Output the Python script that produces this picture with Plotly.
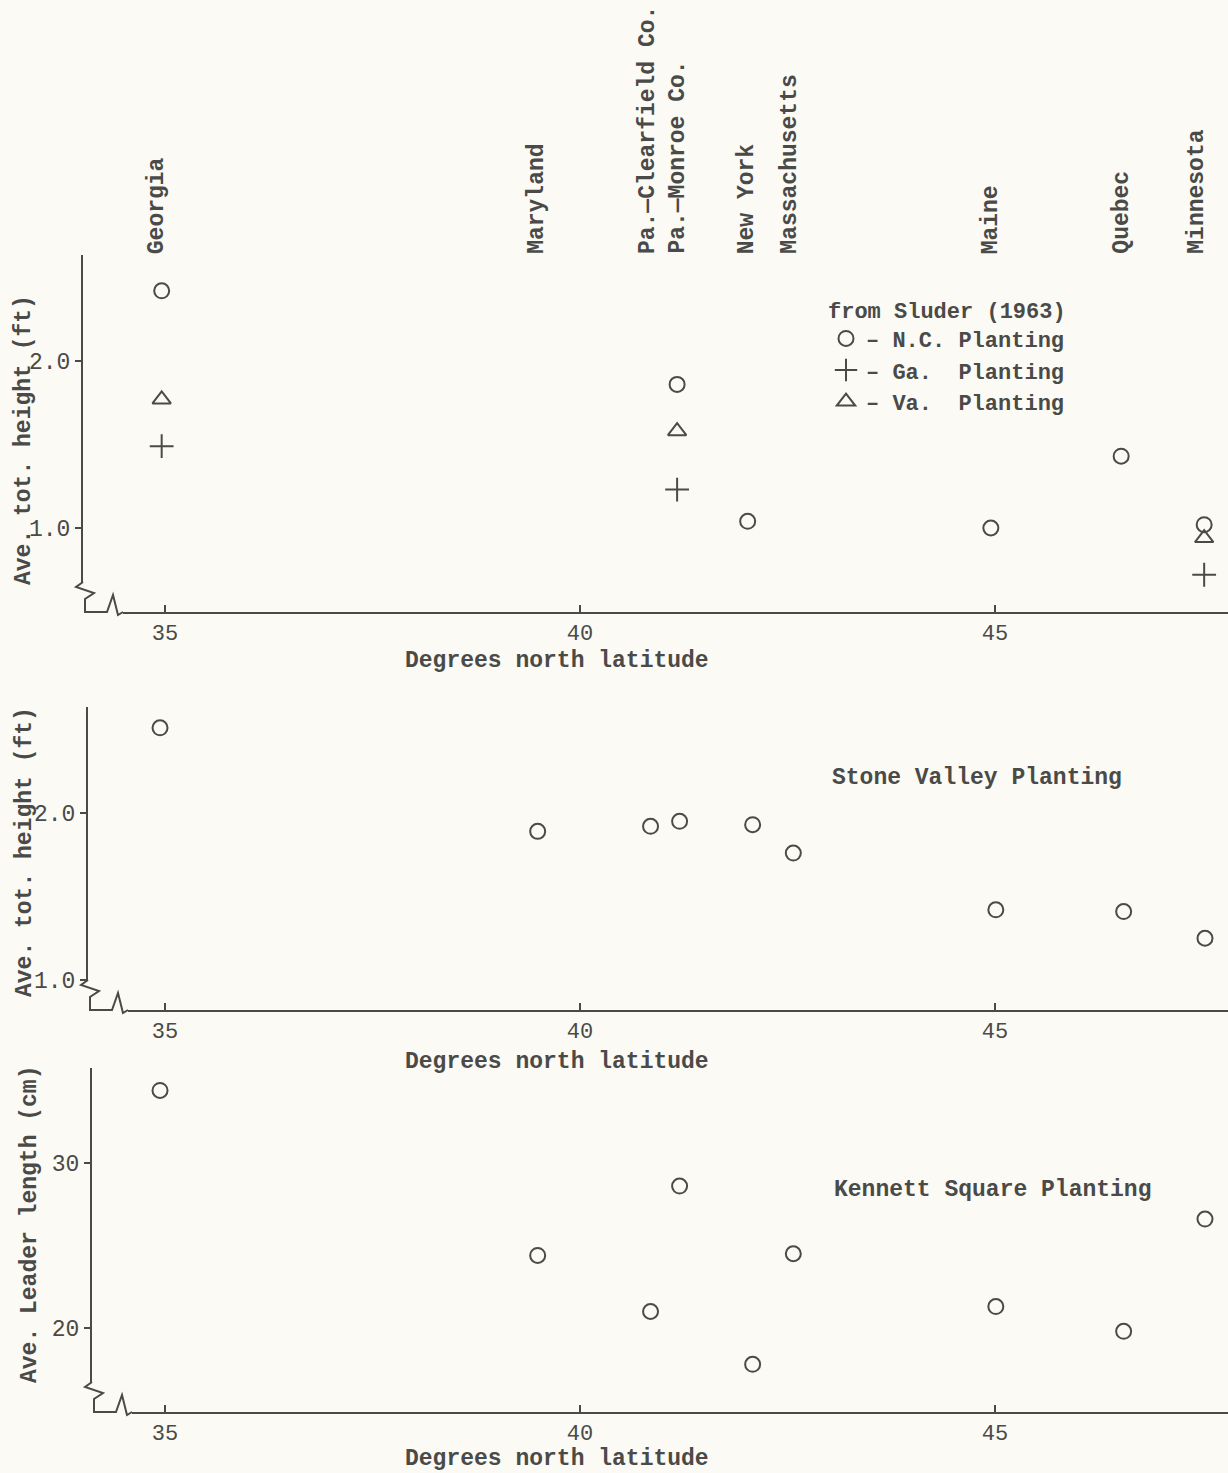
import plotly.graph_objects as go

W, H = 1228, 1473
BG = "#fbfaf4"
INK = "#4a4a48"
FONT = "Liberation Mono"
FS = 23

# ---------------- data ----------------
site_labels = ["Georgia", "Maryland", "Pa.\u2014Clearfield Co.", "Pa.\u2014Monroe Co.",
               "New York", "Massachusetts", "Maine", "Quebec", "Minnesota"]
site_label_lat = [34.90, 39.48, 40.82, 41.17, 42.01, 42.52, 44.95, 46.52, 47.43]

# Panel 1: from Sluder (1963)
nc_lat = [34.96, 41.17, 42.02, 44.95, 46.52, 47.52]
nc_height = [2.42, 1.86, 1.04, 1.00, 1.43, 1.02]
ga_lat = [34.96, 41.17, 47.52]
ga_height = [1.49, 1.23, 0.72]
va_lat = [34.96, 41.17, 47.52]
va_height = [1.77, 1.58, 0.94]

# Panels 2 and 3
sv_lat = [34.94, 39.49, 40.85, 41.20, 42.08, 42.57, 45.01, 46.55, 47.53]
sv_height = [2.51, 1.89, 1.92, 1.95, 1.93, 1.76, 1.42, 1.41, 1.25]
ks_leader = [34.4, 24.4, 21.0, 28.6, 17.8, 24.5, 21.3, 19.8, 26.6]

x_ticks = [35, 40, 45]
y_ticks_ft = [1.0, 2.0]
y_ticks_cm = [20, 30]

# ---------------- layout helpers ----------------
def px(x):
    return x / W

def py(y):
    return 1 - y / H

X35, PXDEG = 165, 83.0

def xrange_for(left_px):
    return [35 - (X35 - left_px) / PXDEG, 35 + (W - X35) / PXDEG]

panels = [
    dict(ax=83, top=255, bot=612, yr=[1.0 - (612 - 528) / 167, 2.0 + (361 - 255) / 167]),
    dict(ax=88, top=707, bot=1010, yr=[1.0 - (1010 - 980) / 167, 2.0 + (813 - 707) / 167]),
    dict(ax=92, top=1068, bot=1412, yr=[20 - (1412 - 1328) / 16.5, 30 + (1163 - 1068) / 16.5]),
]

fig = go.Figure()

mk_line = dict(color=INK, width=2)
fig.add_trace(go.Scatter(x=nc_lat, y=nc_height, mode="markers", name="\u2013 N.C. Planting",
                         marker=dict(symbol="circle-open", size=15, line=mk_line, color=INK),
                         xaxis="x", yaxis="y"))
fig.add_trace(go.Scatter(x=ga_lat, y=ga_height, mode="markers", name="\u2013 Ga.\u00a0 Planting",
                         marker=dict(symbol="cross-thin-open", size=17, line=mk_line, color=INK),
                         xaxis="x", yaxis="y"))
fig.add_trace(go.Scatter(x=va_lat, y=va_height, mode="markers", name="\u2013 Va.\u00a0 Planting",
                         marker=dict(symbol="triangle-up-open", size=16, line=mk_line, color=INK),
                         xaxis="x", yaxis="y"))
fig.add_trace(go.Scatter(x=sv_lat, y=sv_height, mode="markers", showlegend=False,
                         marker=dict(symbol="circle-open", size=15, line=mk_line, color=INK),
                         xaxis="x2", yaxis="y2"))
fig.add_trace(go.Scatter(x=sv_lat, y=ks_leader, mode="markers", showlegend=False,
                         marker=dict(symbol="circle-open", size=15, line=mk_line, color=INK),
                         xaxis="x3", yaxis="y3"))

axis_common = dict(showline=True, linecolor=INK, linewidth=2, showgrid=False, zeroline=False,
                   tickwidth=2, tickcolor=INK)

BOLD = dict(family=FONT, size=FS, color=INK, weight="bold")

layout = dict(
    width=W, height=H, margin=dict(l=0, r=0, t=0, b=0),
    paper_bgcolor=BG, plot_bgcolor="rgba(0,0,0,0)",
    font=dict(family=FONT, size=FS, color=INK),
    showlegend=True,
    legend=dict(x=px(826), y=py(289), xanchor="left", yanchor="top",
                bgcolor="rgba(0,0,0,0)", borderwidth=0,
                font=dict(family=FONT, size=22, color=INK, weight="bold"),
                title=dict(text="from Sluder (1963)",
                           font=dict(family=FONT, size=22, color=INK, weight="bold")),
                itemsizing="trace", tracegroupgap=0),
)

yticks = [y_ticks_ft, y_ticks_ft, y_ticks_cm]
yfmt = [".1f", ".1f", "d"]
for i, p in enumerate(panels):
    sx = "" if i == 0 else str(i + 1)
    layout["xaxis" + sx] = dict(axis_common, domain=[px(p["ax"]), 1], range=xrange_for(p["ax"]),
                                anchor="y" + sx, tickvals=x_ticks, ticks="inside", ticklen=7,
                                ticklabelstandoff=0,
                                tickfont=dict(family=FONT, size=22, color=INK))
    layout["yaxis" + sx] = dict(axis_common, domain=[py(p["bot"]), py(p["top"])], range=p["yr"],
                                anchor="x" + sx, tickvals=yticks[i], tickformat=yfmt[i],
                                ticks="outside", ticklen=6,
                                tickfont=dict(family=FONT, size=FS, color=INK))

fig.update_layout(**layout)

# top site labels (rotated)
for name, lat in zip(site_labels, site_label_lat):
    fig.add_annotation(x=lat, xref="x", y=py(256), yref="paper", text=name, textangle=-90,
                       showarrow=False, xanchor="center", yanchor="bottom", font=BOLD)

# axis titles
ytitles = [("Ave. tot. height (ft)", 24, 440), ("Ave. tot. height (ft)", 25, 852),
           ("Ave. Leader length (cm)", 30, 1225)]
for t, xx, yy in ytitles:
    fig.add_annotation(x=px(xx), y=py(yy), xref="paper", yref="paper", text=t, textangle=-90,
                       showarrow=False, xanchor="center", yanchor="middle", font=BOLD)
for yy in [661, 1062, 1459]:
    fig.add_annotation(x=px(557), y=py(yy), xref="paper", yref="paper",
                       text="Degrees north latitude", showarrow=False,
                       xanchor="center", yanchor="middle", font=BOLD)

fig.add_annotation(x=px(830), y=py(778), xref="paper", yref="paper", text="Stone Valley Planting",
                   showarrow=False, xanchor="left", yanchor="middle", font=BOLD)
fig.add_annotation(x=px(832), y=py(1190), xref="paper", yref="paper", text="Kennett Square Planting",
                   showarrow=False, xanchor="left", yanchor="middle", font=BOLD)

# axis break (zig-zag) decorations
rel = [(0, -30), (-7, -25), (11, -19), (2, -13), (2, 0), (24, 0), (30, -17), (35, 3), (40, 0)]
for p in panels:
    ax, yb = p["ax"], p["bot"]
    fig.add_shape(type="rect", xref="paper", yref="paper", layer="above",
                  x0=px(ax - 10), x1=px(ax + 40), y0=py(yb + 5), y1=py(yb - 29),
                  fillcolor=BG, line=dict(width=0))
    path = "M " + " L ".join(f"{px(ax + dx):.5f},{py(yb + dy):.5f}" for dx, dy in rel)
    fig.add_shape(type="path", xref="paper", yref="paper", layer="above", path=path,
                  line=dict(color=INK, width=2))

fig.write_html("out.html",
               config={"displayModeBar": False},
               post_script="document.body.style.margin='0';"
                           "document.body.style.background='#fbfaf4';"
                           "document.body.style.overflow='hidden';")
